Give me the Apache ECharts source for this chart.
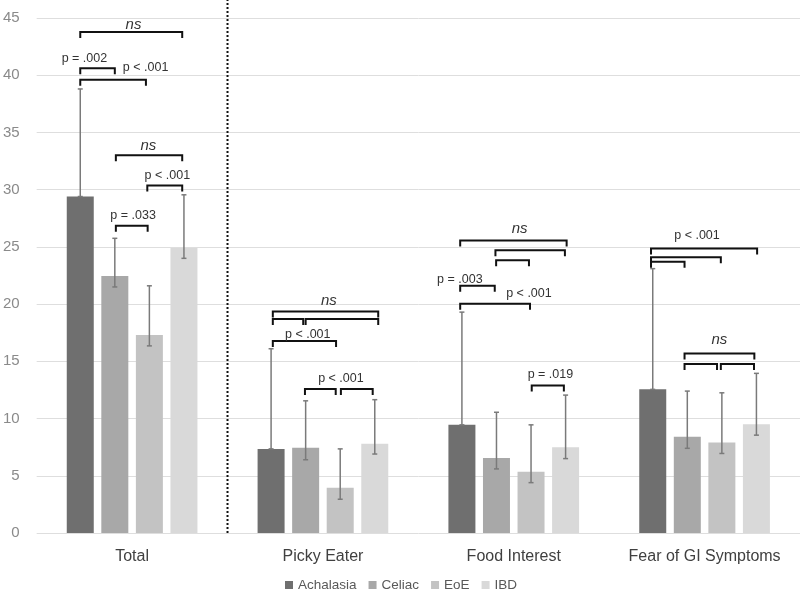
<!DOCTYPE html>
<html>
<head>
<meta charset="utf-8">
<script src="https://cdn.jsdelivr.net/npm/echarts@6/dist/echarts.min.js"></script>
<style>html,body{margin:0;padding:0;background:#fff}#c{width:800px;height:592px}</style>
</head>
<body>
<div id="c"></div>
<script>
// ---- data ----
const categories = ['Total', 'Picky Eater', 'Food Interest', 'Fear of GI Symptoms'];
const seriesNames = ['Achalasia', 'Celiac', 'EoE', 'IBD'];
const achalasia = [29.4, 7.35, 9.45, 12.55];
const celiac    = [22.45, 7.45, 6.55, 8.4];
const eoe       = [17.3, 3.95, 5.35, 7.9];
const ibd       = [24.9, 7.8, 7.5, 9.5];
const achalasiaHigh = [38.8, 16.1, 19.3, 23.1];
const celiacHigh    = [25.75, 11.55, 10.55, 12.4];
const eoeHigh       = [21.6, 7.35, 9.45, 12.25];
const ibdHigh       = [29.55, 11.65, 12.05, 13.95];
const achalasiaLow  = [29.4, 7.35, 9.45, 12.55];
const celiacLow     = [21.5, 6.4, 5.6, 7.4];
const eoeLow        = [16.35, 2.95, 4.4, 6.95];
const ibdLow        = [24.0, 6.9, 6.5, 8.55];
// significance brackets: [category, fromGroup, toGroup, level]
const brackets = [
  [0, 0, 2.95, 43.77], [0, 0, 1, 40.62], [0, 0, 1.9, 39.6],
  [0, 1.03, 2.95, 33.0], [0, 1.94, 2.95, 30.36], [0, 1.03, 1.95, 26.84],
  [1, 0.05, 3.1, 19.35], [1, 0.05, 0.93, 18.7], [1, 1.0, 3.1, 18.7],
  [1, 0.05, 1.88, 16.78], [1, 0.98, 1.87, 12.59], [1, 2.02, 2.94, 12.59],
  [2, -0.05, 3.03, 25.55], [2, 0.97, 2.98, 24.71], [2, 0.99, 1.94, 23.84],
  [2, -0.05, 0.95, 21.6], [2, -0.05, 1.97, 20.04], [2, 2.02, 2.95, 12.88],
  [3, -0.05, 3.02, 24.86], [3, -0.05, 1.97, 24.1], [3, -0.05, 0.92, 23.7],
  [3, 0.92, 2.94, 15.68], [3, 0.92, 1.86, 14.77], [3, 1.97, 2.93, 14.77]
];
// significance labels: [category, groupPosition, level, text]
const sigLabels = [
  [0, 1.54, 44.4, 'ns'], [0, 0.12, 41.46, 'p = .002'], [0, 1.89, 40.65, 'p < .001'],
  [0, 1.97, 33.86, 'ns'], [0, 2.52, 31.23, 'p < .001'], [0, 1.53, 27.71, 'p = .033'],
  [1, 1.67, 20.31, 'ns'], [1, 1.06, 17.37, 'p < .001'], [1, 2.02, 13.46, 'p < .001'],
  [2, 1.67, 26.55, 'ns'], [2, -0.06, 22.18, 'p = .003'], [2, 1.94, 20.92, 'p < .001'], [2, 2.56, 13.84, 'p = .019'],
  [3, 1.28, 26.02, 'p < .001'], [3, 1.93, 16.9, 'ns']
];
const yTicks = [0, 5, 10, 15, 20, 25, 30, 35, 40, 45];

// ---- styles ----
const colors = ['#6f6f6f', '#a8a8a8', '#c3c3c3', '#d9d9d9'];
const BAR_W = 27, BAR_GAP = 0.28;
const SPACING = BAR_W * (1 + BAR_GAP);
const FONT = '"Liberation Sans", Arial, sans-serif';

const values = [achalasia, celiac, eoe, ibd];
const highs = [achalasiaHigh, celiacHigh, eoeHigh, ibdHigh];
const lows = [achalasiaLow, celiacLow, eoeLow, ibdLow];

const errData = [];
for (let s = 0; s < 4; s++) for (let c = 0; c < 4; c++) errData.push([c, highs[s][c], lows[s][c], s]);

function xAt(api, cat, pos) {
  return api.coord([cat, 0])[0] + (pos - 1.5) * SPACING;
}

const series = seriesNames.map((n, i) => ({
  name: n, type: 'bar', data: values[i], barWidth: BAR_W, barGap: (BAR_GAP * 100) + '%',
  itemStyle: { color: colors[i] }, z: 2
}));

series.push({
  type: 'custom', name: 'err', data: errData, z: 5, silent: true,
  renderItem(params, api) {
    const c = api.value(0), s = api.value(3);
    const x = xAt(api, c, s);
    const yH = api.coord([c, api.value(1)])[1];
    const yL = api.coord([c, api.value(2)])[1];
    const st = { stroke: '#7a7a7a', lineWidth: 1.5 };
    return { type: 'group', children: [
      { type: 'line', shape: { x1: x, y1: yH, x2: x, y2: yL }, style: st },
      { type: 'line', shape: { x1: x - 2.5, y1: yH, x2: x + 2.5, y2: yH }, style: st },
      { type: 'line', shape: { x1: x - 2.5, y1: yL, x2: x + 2.5, y2: yL }, style: st }
    ]};
  }
});

series.push({
  type: 'custom', name: 'brackets', data: brackets, z: 6, silent: true,
  renderItem(params, api) {
    const c = api.value(0);
    const x1 = xAt(api, c, api.value(1)), x2 = xAt(api, c, api.value(2));
    const y = api.coord([c, api.value(3)])[1];
    return { type: 'polyline', shape: { points: [[x1, y + 6], [x1, y], [x2, y], [x2, y + 6]] },
      style: { stroke: '#111', lineWidth: 2, fill: null } };
  }
});

series.push({
  type: 'custom', name: 'labels', data: sigLabels.map(l => [l[0], l[1], l[2]]), z: 7, silent: true,
  renderItem(params, api) {
    const l = sigLabels[params.dataIndex];
    const c = api.value(0);
    const x = xAt(api, c, api.value(1));
    const y = api.coord([c, api.value(2)])[1];
    const ns = l[3] === 'ns';
    return { type: 'text', style: { x: x, y: y, text: l[3], align: 'center', verticalAlign: 'middle',
      fill: '#333', font: (ns ? 'italic 15px ' : '12.5px ') + FONT } };
  }
});

series.push({
  type: 'custom', name: 'divider', data: [[0, 0]], z: 4, silent: true,
  renderItem(params, api) {
    const p = api.coord([0, 0]);
    const x = p[0] + api.size([1, 0])[0] / 2;
    return { type: 'line', shape: { x1: x, y1: p[1], x2: x, y2: 0 },
      style: { stroke: '#111', lineWidth: 2, lineDash: [2, 2] } };
  }
});

const chart = echarts.init(document.getElementById('c'), null, { renderer: 'canvas' });
chart.setOption({
  animation: false,
  backgroundColor: '#fff',
  grid: { left: 35, right: 0, top: 18, bottom: 59, containLabel: false },
  legend: {
    data: seriesNames, top: 578, left: 285, padding: 0, icon: 'rect', itemWidth: 8, itemHeight: 8, itemGap: 12,
    textStyle: { color: '#595959', fontSize: 13.5, fontFamily: FONT }
  },
  xAxis: {
    type: 'category', data: categories,
    axisLine: { show: false }, axisTick: { show: false },
    axisLabel: { color: '#404040', fontSize: 16, fontFamily: FONT, margin: 16, interval: 0 }
  },
  yAxis: {
    type: 'value', min: yTicks[0], max: yTicks[yTicks.length - 1], interval: yTicks[1] - yTicks[0],
    axisLine: { show: false }, axisTick: { show: false },
    axisLabel: { color: '#8a8a8a', fontSize: 15, fontFamily: FONT, margin: 17 },
    splitLine: { lineStyle: { color: '#dedede', width: 1 } }
  },
  series: series
});
</script>
</body>
</html>
